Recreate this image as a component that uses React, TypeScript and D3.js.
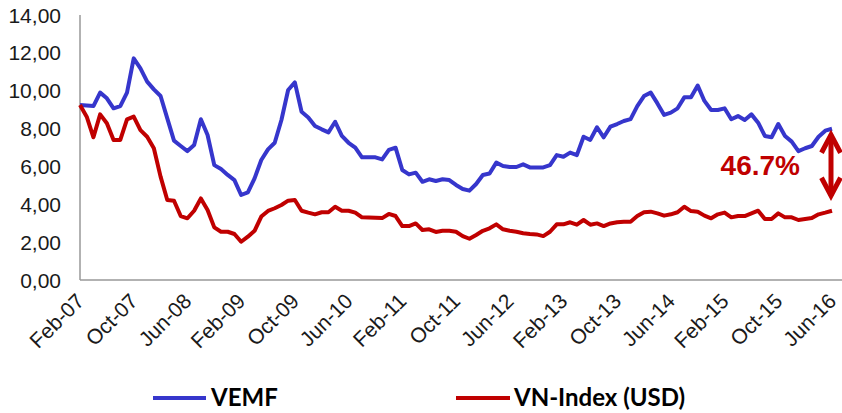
import React from "react";
import * as d3 from "d3";

const startMonth = new Date(2007, 1, 1);
const endMonth = new Date(2016, 5, 1);
const months = d3.timeMonth.range(startMonth, d3.timeMonth.offset(endMonth, 1));

const vemf = [
  9.24, 9.22, 9.19, 9.9, 9.6, 9.07, 9.19, 9.9, 11.71, 11.18,
  10.48, 10.07, 9.72, 8.54, 7.36, 7.08, 6.81, 7.13, 8.49, 7.66,
  6.07, 5.86, 5.55, 5.28, 4.49, 4.63, 5.37, 6.34, 6.9, 7.25,
  8.45, 10.04, 10.44, 8.89, 8.59, 8.14, 7.96, 7.8, 8.36, 7.61,
  7.25, 6.99, 6.48, 6.48, 6.48, 6.37, 6.87, 6.99, 5.81, 5.58,
  5.67, 5.19, 5.32, 5.23, 5.32, 5.28, 5.02, 4.81, 4.72, 5.07,
  5.55, 5.63, 6.2, 6.02, 5.97, 5.97, 6.11, 5.95, 5.95, 5.95,
  6.07, 6.6, 6.51, 6.73, 6.6, 7.57, 7.4, 8.07, 7.54, 8.1,
  8.24, 8.4, 8.5, 9.19, 9.72, 9.9, 9.33, 8.72, 8.84, 9.07,
  9.65, 9.65, 10.27, 9.46, 8.98, 8.98, 9.07, 8.49, 8.66, 8.45,
  8.75, 8.31, 7.61, 7.54, 8.24, 7.61, 7.31, 6.81, 6.96, 7.08,
  7.57, 7.89, 7.99,
];

const vnIndexUsd = [
  9.24, 8.63, 7.54, 8.75, 8.28, 7.4, 7.4, 8.49, 8.63, 7.92,
  7.57, 6.96, 5.46, 4.23, 4.19, 3.38, 3.26, 3.66, 4.31, 3.7,
  2.78, 2.55, 2.55, 2.43, 2.02, 2.29, 2.6, 3.35, 3.65, 3.79,
  3.96, 4.19, 4.23, 3.66, 3.56, 3.47, 3.58, 3.58, 3.87, 3.66,
  3.66, 3.56, 3.31, 3.3, 3.29, 3.27, 3.49, 3.38, 2.85, 2.85,
  2.99, 2.64, 2.68, 2.54, 2.6, 2.6, 2.55, 2.32, 2.18, 2.38,
  2.6, 2.73, 2.94, 2.68, 2.6, 2.55, 2.47, 2.43, 2.41, 2.32,
  2.55, 2.94, 2.94, 3.05, 2.92, 3.17, 2.92, 2.99, 2.85, 2.99,
  3.05, 3.08, 3.08, 3.38, 3.58, 3.61, 3.52, 3.4, 3.47, 3.58,
  3.87, 3.64, 3.61, 3.4, 3.26, 3.47, 3.56, 3.31, 3.38, 3.38,
  3.52, 3.66, 3.22, 3.22, 3.52, 3.31, 3.31, 3.17, 3.22, 3.27,
  3.47, 3.56, 3.66,
];

const yTicks = [0, 2, 4, 6, 8, 10, 12, 14];
const xTickEvery = 8;
const seriesNames = ["VEMF", "VN-Index (USD)"];
const gapLabel = "46.7%";

const BLUE = "#3636CC";
const RED = "#C00000";
const FONT = "'Liberation Sans', Arial, Helvetica, sans-serif";

export default function App() {
  const W = 842;
  const H = 413;
  const x = d3.scaleLinear().domain([0, months.length - 1]).range([80, 832]);
  const y = d3.scaleLinear().domain([0, 14]).range([280, 15]);
  const fmt = d3.timeFormat("%b-%y");
  const line = d3
    .line<number>()
    .x((_, i) => x(i))
    .y((d) => y(d));

  const tickIdx = d3.range(0, months.length, xTickEvery);
  const last = months.length - 1;
  const ax = x(last) - 1;
  const aTop = y(vemf[last]) + 4;
  const aBot = y(vnIndexUsd[last]) - 13;

  return (
    <svg
      width={W}
      height={H}
      style={{ position: "absolute", left: 0, top: 0, background: "#fff" }}
      fontFamily={FONT}
    >
      <line x1={80} y1={y(14)} x2={80} y2={y(0)} stroke="#999" strokeWidth={1.5} />
      <line x1={80} y1={y(0)} x2={842} y2={y(0)} stroke="#999" strokeWidth={1.5} />

      {yTicks.map((t) => (
        <text
          key={t}
          x={61}
          y={y(t)}
          dy="0.36em"
          textAnchor="end"
          fontSize={21}
          fill="#1a1a1a"
        >
          {d3.format(".2f")(t).replace(".", ",")}
        </text>
      ))}

      {tickIdx.map((i) => (
        <text
          key={i}
          transform={`translate(${x(i) - 5},${292}) rotate(-45)`}
          textAnchor="end"
          fontSize={21}
          dy="0.7em"
          fill="#1a1a1a"
        >
          {fmt(months[i])}
        </text>
      ))}

      <path d={line(vemf) || ""} fill="none" stroke={BLUE} strokeWidth={4} strokeLinejoin="round" />
      <path d={line(vnIndexUsd) || ""} fill="none" stroke={RED} strokeWidth={4} strokeLinejoin="round" />

      <text
        x={800}
        y={175}
        textAnchor="end"
        fontSize={28}
        fontWeight="bold"
        fill={RED}
      >
        {gapLabel}
      </text>
      <line x1={ax} y1={aTop + 2} x2={ax} y2={aBot - 2} stroke={RED} strokeWidth={5} />
      <polyline
        points={`${ax - 9.5},${aTop + 20} ${ax},${aTop + 2} ${ax + 9.5},${aTop + 20}`}
        fill="none"
        stroke={RED}
        strokeWidth={5}
        strokeLinejoin="miter"
      />
      <polyline
        points={`${ax - 9.5},${aBot - 20} ${ax},${aBot - 2} ${ax + 9.5},${aBot - 20}`}
        fill="none"
        stroke={RED}
        strokeWidth={5}
        strokeLinejoin="miter"
      />

      <g fontFamily="Lato, 'Liberation Sans', sans-serif" fontWeight="bold" fontSize={24}>
        <line x1={153} y1={398} x2={206} y2={398} stroke={BLUE} strokeWidth={4} />
        <text x={211} y={398} dy="0.35em" fill="#000">
          {seriesNames[0]}
        </text>
        <line x1={456} y1={398} x2={510} y2={398} stroke={RED} strokeWidth={4} />
        <text x={514} y={398} dy="0.35em" fill="#000">
          {seriesNames[1]}
        </text>
      </g>
    </svg>
  );
}
